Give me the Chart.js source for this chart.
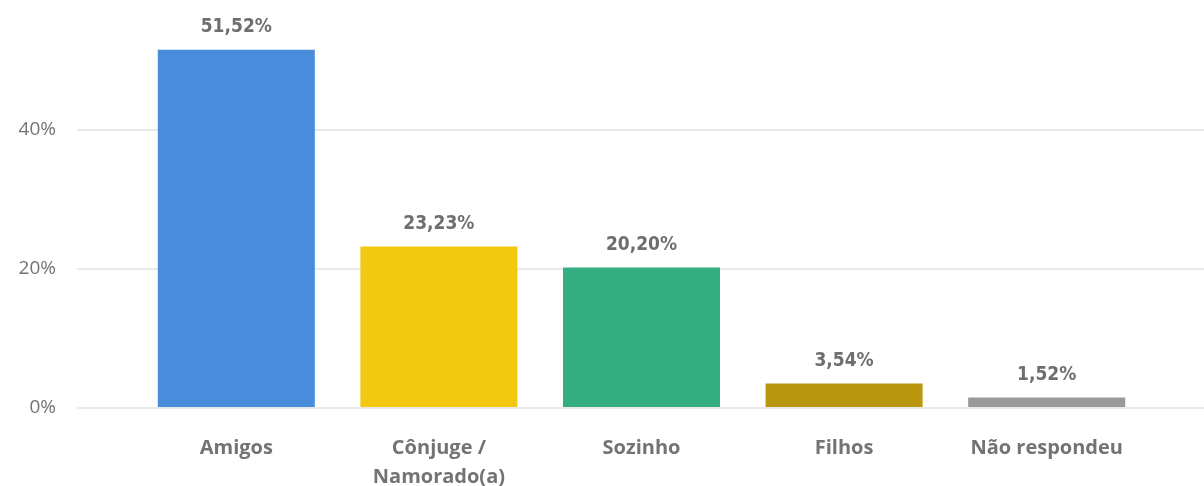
<!DOCTYPE html>
<html>
<head>
<meta charset="utf-8">
<script src="https://cdn.jsdelivr.net/npm/chart.js@4/dist/chart.umd.min.js"></script>
<style>
    html, body { margin: 0; padding: 0; background: #fff; }
    #box { width: 1204px; height: 486px; }
</style>
</head>
<body>
<div id="box"><canvas id="grafico"></canvas></div>
<script>
var categorias = ['Amigos', ['Cônjuge /', 'Namorado(a)'], 'Sozinho', 'Filhos', 'Não respondeu'];
var valores = [51.52, 23.23, 20.20, 3.54, 1.52];
var cores = ['#4a8cdc', '#f2c811', '#34ae80', '#b8960e', '#999999'];
var ticksY = [0, 20, 40];

var corTexto = '#737373';
var corGrade = '#e9e9e9';

function formatarPct(v) {
    return v.toFixed(2).replace('.', ',') + '%';
}

// rotulos em cima das barras
var rotulosPlugin = {
    id: 'rotulos',
    afterDatasetsDraw: function (chart) {
        var ctx = chart.ctx;
        var meta = chart.getDatasetMeta(0);
        ctx.save();
        ctx.fillStyle = '#6e6e6e';
        ctx.font = 'bold 19px "DejaVu Sans Condensed", "DejaVu Sans", sans-serif';
        ctx.textAlign = 'center';
        ctx.textBaseline = 'bottom';
        meta.data.forEach(function (bar, i) {
            ctx.fillText(formatarPct(valores[i]), bar.x, bar.y - 13);
        });
        ctx.restore();
    }
};

var eixoY = {
    min: 0,
    max: 54,
    afterBuildTicks: function (axis) {
        axis.ticks = ticksY.map(function (v) { return { value: v }; });
    },
    border: { display: false },
    grid: {
        color: corGrade,
        lineWidth: 2,
        tickColor: corGrade,
        tickLength: 58
    },
    ticks: {
        color: corTexto,
        padding: 21,
        font: { family: '"Open Sans", sans-serif', size: 19 },
        callback: function (v) { return v + '%'; }
    },
    afterFit: function (axis) { axis.width = 135; }
};

var eixoY2 = {
    position: 'right',
    min: 0,
    max: 54,
    afterBuildTicks: function (axis) {
        axis.ticks = ticksY.map(function (v) { return { value: v }; });
    },
    border: { display: false },
    grid: {
        drawOnChartArea: false,
        color: corGrade,
        lineWidth: 2,
        tickColor: corGrade,
        tickLength: 56
    },
    ticks: { display: false },
    afterFit: function (axis) { axis.width = 56; }
};

new Chart(document.getElementById('grafico'), {
    type: 'bar',
    data: {
        labels: categorias,
        datasets: [{
            data: valores,
            backgroundColor: cores,
            barPercentage: 0.775,
            categoryPercentage: 1
        }]
    },
    options: {
        responsive: true,
        maintainAspectRatio: false,
        animation: false,
        layout: { padding: { top: 5, left: 0, right: 0, bottom: 0 } },
        plugins: {
            legend: { display: false },
            tooltip: { enabled: false }
        },
        scales: {
            x: {
                border: { display: false },
                grid: { display: false },
                ticks: {
                    color: corTexto,
                    padding: 18,
                    maxRotation: 0,
                    autoSkip: false,
                    font: { family: '"Open Sans", sans-serif', size: 20, weight: 'bold', lineHeight: 1.45 }
                },
                afterFit: function (axis) { axis.height = 78; }
            },
            y: eixoY,
            y2: eixoY2
        }
    },
    plugins: [rotulosPlugin]
});
</script>
</body>
</html>
